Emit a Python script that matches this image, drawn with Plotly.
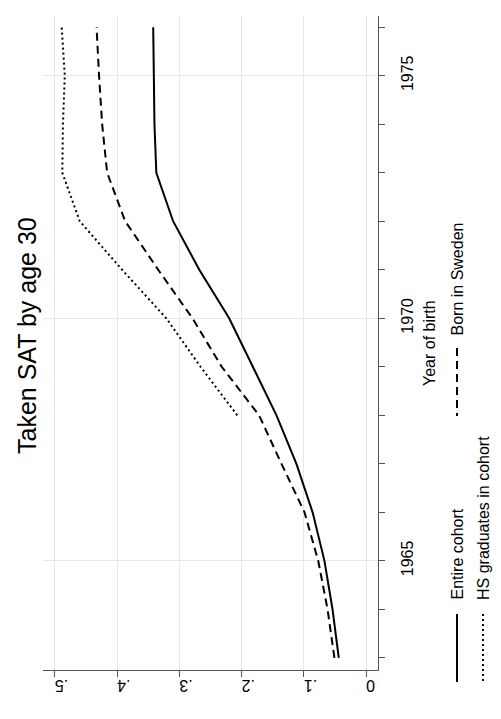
import plotly.graph_objects as go

years = [1963, 1964, 1965, 1966, 1967, 1968, 1969, 1970, 1971, 1972, 1973, 1974, 1975, 1976]
entire_cohort = [0.044, 0.054, 0.067, 0.086, 0.112, 0.144, 0.182, 0.220, 0.268, 0.310, 0.337, 0.340, 0.341, 0.342]
born_in_sweden = [0.051, 0.062, 0.077, 0.099, 0.136, 0.172, 0.232, 0.279, 0.334, 0.387, 0.416, 0.424, 0.429, 0.433]
hs_years = [1968, 1969, 1970, 1971, 1972, 1973, 1974, 1975, 1976]
hs_graduates = [0.207, 0.266, 0.321, 0.392, 0.460, 0.488, 0.487, 0.484, 0.489]

value_ticks = [0, 0.1, 0.2, 0.3, 0.4, 0.5]
value_labels = ["0", ".1", ".2", ".3", ".4", ".5"]
year_ticks = [1965, 1970, 1975]

FONT = "Arial, Liberation Sans, sans-serif"
W, H = 501, 719
L, R, T, B = 43, 378, 16, 670

def px(x):
    return (x - L) / (R - L)

def py(y):
    return (B - y) / (B - T)

fig = go.Figure()
fig.add_trace(go.Scatter(x=entire_cohort, y=years, mode="lines",
                         line=dict(color="black", width=2), showlegend=False))
fig.add_trace(go.Scatter(x=born_in_sweden, y=years, mode="lines",
                         line=dict(color="black", width=2, dash="8px,5px"), showlegend=False))
fig.add_trace(go.Scatter(x=hs_graduates, y=hs_years, mode="lines",
                         line=dict(color="black", width=2, dash="2px,3px"), showlegend=False))

fig.update_layout(
    width=W, height=H,
    margin=dict(l=L, r=W - R, t=T, b=H - B, autoexpand=False),
    paper_bgcolor="white", plot_bgcolor="white",
    font=dict(family=FONT, color="black", size=16),
    showlegend=False,
    xaxis=dict(range=[0.519, -0.019], tickvals=value_ticks, ticktext=value_labels,
               tickangle=180, ticks="outside", ticklen=6, tickcolor="#555",
               showline=True, linecolor="#555", linewidth=1.3,
               showgrid=True, gridcolor="#e8e8e8", gridwidth=1.2,
               zeroline=False, tickfont=dict(size=16)),
    yaxis=dict(range=[1962.75, 1976.23], side="right", tickvals=year_ticks,
               ticktext=[str(v) for v in year_ticks],
               tickangle=-90, ticks="outside", ticklen=6, tickcolor="#555",
               ticklabelstandoff=9,
               minor=dict(dtick=1, tick0=1963, ticks="outside", ticklen=6,
                          tickcolor="#555", showgrid=False),
               showline=True, linecolor="#555", linewidth=1.3,
               showgrid=True, gridcolor="#e8e8e8", gridwidth=1.2,
               zeroline=False, tickfont=dict(size=16)),
)

ann = []
ann.append(dict(text="Taken SAT by age 30", xref="paper", yref="paper",
                x=px(27), y=py(336), xanchor="center", yanchor="middle",
                textangle=-90, showarrow=False, font=dict(size=25)))
ann.append(dict(text="Year of birth", xref="paper", yref="paper",
                x=px(429), y=py(343), xanchor="center", yanchor="middle",
                textangle=-90, showarrow=False, font=dict(size=16)))
# legend texts
ann.append(dict(text="Entire cohort", xref="paper", yref="paper",
                x=px(457), y=py(602), xanchor="center", yanchor="bottom",
                textangle=-90, showarrow=False, font=dict(size=16)))
ann.append(dict(text="HS graduates in cohort", xref="paper", yref="paper",
                x=px(483), y=py(602), xanchor="center", yanchor="bottom",
                textangle=-90, showarrow=False, font=dict(size=16)))
ann.append(dict(text="Born in Sweden", xref="paper", yref="paper",
                x=px(457), y=py(338), xanchor="center", yanchor="bottom",
                textangle=-90, showarrow=False, font=dict(size=16)))
fig.update_layout(annotations=ann)

shapes = [
    dict(type="line", xref="paper", yref="paper", x0=px(457), x1=px(457),
         y0=py(614), y1=py(682), line=dict(color="black", width=2)),
    dict(type="line", xref="paper", yref="paper", x0=px(483), x1=px(483),
         y0=py(614), y1=py(682), line=dict(color="black", width=2, dash="2px,3px")),
    dict(type="line", xref="paper", yref="paper", x0=px(457), x1=px(457),
         y0=py(348), y1=py(416), line=dict(color="black", width=2, dash="8px,5px")),
]
fig.update_layout(shapes=shapes)

fig.write_html("out.html", config={"displayModeBar": False},
               post_script="document.body.style.margin='0px';document.body.style.overflow='hidden';")
